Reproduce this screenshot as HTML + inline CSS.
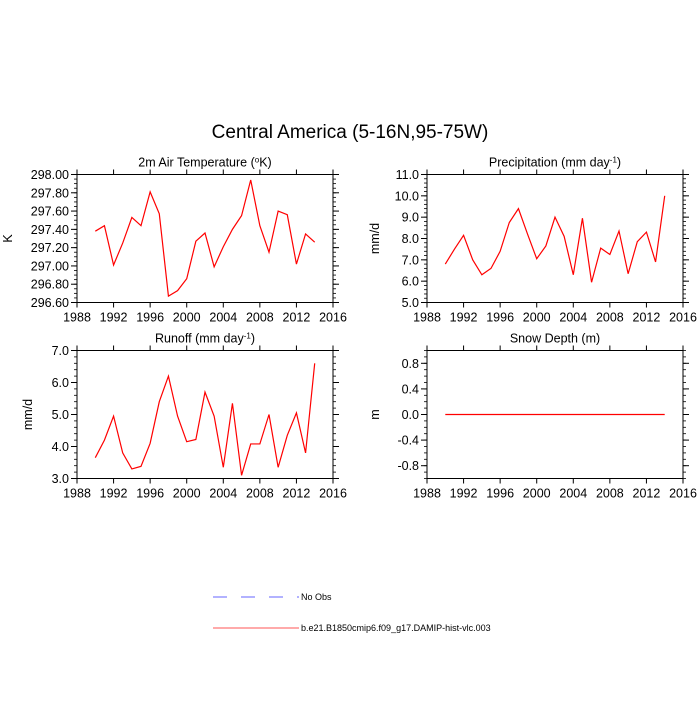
<!DOCTYPE html>
<html><head><meta charset="utf-8"><style>
body{margin:0;background:#fff;}
svg text{font-family:"Liberation Sans",sans-serif;fill:#000;}
</style></head><body>
<svg id="chart" width="700" height="700" xmlns="http://www.w3.org/2000/svg">
<text x="350" y="138" font-size="19" text-anchor="middle">Central America (5-16N,95-75W)</text>
<g id="panels"></g>
<g>
<line x1="213" y1="597" x2="299" y2="597" stroke="#6666ff" stroke-width="1" stroke-dasharray="14,14"/>
<text x="301" y="600" font-size="9">No Obs</text>
<line x1="213" y1="628" x2="299" y2="628" stroke="#ff5555" stroke-width="1"/>
<text x="301" y="631" font-size="9">b.e21.B1850cmip6.f09_g17.DAMIP-hist-vlc.003</text>
</g>
</svg>
<script>
const years=[1990,1991,1992,1993,1994,1995,1996,1997,1998,1999,2000,2001,2002,2003,2004,2005,2006,2007,2008,2009,2010,2011,2012,2013,2014];
const tempValues=[297.38,297.44,297.01,297.25,297.53,297.44,297.81,297.57,296.67,296.73,296.86,297.27,297.36,296.99,297.21,297.40,297.55,297.94,297.44,297.15,297.60,297.56,297.02,297.35,297.26];
const precipValues=[6.8,7.5,8.15,7.0,6.3,6.6,7.4,8.75,9.4,8.2,7.05,7.65,9.0,8.1,6.3,8.95,5.95,7.55,7.25,8.35,6.35,7.85,8.3,6.9,10.0];
const runoffValues=[3.65,4.2,4.95,3.8,3.3,3.38,4.1,5.4,6.2,4.95,4.15,4.22,5.7,4.95,3.35,5.35,3.1,4.08,4.08,5.0,3.35,4.35,5.05,3.8,6.6];
const snowValues=[0,0,0,0,0,0,0,0,0,0,0,0,0,0,0,0,0,0,0,0,0,0,0,0,0];
const xTicks=[1988,1992,1996,2000,2004,2008,2012,2016];
const tempTicks=[296.6,296.8,297.0,297.2,297.4,297.6,297.8,298.0];
const precipTicks=[5,6,7,8,9,10,11];
const runoffTicks=[3,4,5,6,7];
const snowTicks=[-0.8,-0.4,0,0.4,0.8];

const NS="http://www.w3.org/2000/svg";
const root=document.getElementById('panels');
function mk(tag,attrs,parent){const e=document.createElementNS(NS,tag);for(const k in attrs)e.setAttribute(k,attrs[k]);(parent||root).appendChild(e);return e;}

function panel(cfg){
  const {x0,x1,y0,y1,ymin,ymax,ticks,dec,minor,vals,title,ylab,name,yoff}=cfg;
  const g=mk('g',{});
  
  
  const xs=v=>x0+(v-1988)/(2016-1988)*(x1-x0);
  const ys=v=>y1-(v-ymin)/(ymax-ymin)*(y1-y0);
  const fr=mk('rect',{x:x0,y:y0,width:x1-x0,height:y1-y0,fill:'none',stroke:'#000','stroke-width':1},g);
  
  
  for(let v=ymin;v<=ymax+1e-9;v+=minor){
    const y=ys(v);
    mk('line',{x1:x0-3,y1:y,x2:x0,y2:y,stroke:'#000','stroke-width':0.8},g);
    mk('line',{x1:x1,y1:y,x2:x1+3,y2:y,stroke:'#000','stroke-width':0.8},g);
  }
  ticks.forEach(v=>{
    const y=ys(v);
    mk('line',{x1:x0-6,y1:y,x2:x0,y2:y,stroke:'#000','stroke-width':1},g);
    mk('line',{x1:x1,y1:y,x2:x1+6,y2:y,stroke:'#000','stroke-width':1},g);
    const t=mk('text',{x:x0-8,y:y+4.5,'font-size':12.5,'text-anchor':'end'},g);
    
    
    t.textContent=v.toFixed(dec);
  });
  xTicks.forEach(v=>{
    const x=xs(v);
    mk('line',{x1:x,y1:y1,x2:x,y2:y1+5,stroke:'#000','stroke-width':1},g);
    mk('line',{x1:x,y1:y0-5,x2:x,y2:y0,stroke:'#000','stroke-width':1},g);
    const t=mk('text',{x:x,y:y1+19,'font-size':12.5,'text-anchor':'middle'},g);
    
    
    t.textContent=v;
  });
  const tt=mk('text',{x:(x0+x1)/2,y:y0-8,'font-size':12.5,'text-anchor':'middle'},g);
  
  
  tt.innerHTML=title;
  const yl=mk('text',{x:0,y:0,'font-size':12.5,'text-anchor':'middle',transform:`translate(${x0-yoff},${(y0+y1)/2}) rotate(-90)`},g);
  
  
  yl.textContent=ylab;
  const pts=years.map((yr,i)=>xs(yr).toFixed(2)+','+ys(vals[i]).toFixed(2)).join(' ');
  const pl=mk('polyline',{points:pts,fill:'none',stroke:'#ff0000','stroke-width':1.2},g);
  
  
}
panel({name:'temperature',x0:77,x1:333,y0:174.5,y1:302.5,ymin:296.6,ymax:298.0,ticks:tempTicks,dec:2,minor:0.05,vals:tempValues,title:'2m Air Temperature (<tspan baseline-shift="super" font-size="8">o</tspan>K)',ylab:'K',yoff:65});
panel({name:'precipitation',x0:427,x1:683,y0:174.5,y1:302.5,ymin:5,ymax:11,ticks:precipTicks,dec:1,minor:0.2,vals:precipValues,title:'Precipitation (mm day<tspan baseline-shift="super" font-size="8">-1</tspan>)',ylab:'mm/d',yoff:48});
panel({name:'runoff',x0:77,x1:333,y0:350.5,y1:478.5,ymin:3,ymax:7,ticks:runoffTicks,dec:1,minor:0.2,vals:runoffValues,title:'Runoff (mm day<tspan baseline-shift="super" font-size="8">-1</tspan>)',ylab:'mm/d',yoff:45});
panel({name:'snow-depth',x0:427,x1:683,y0:350.5,y1:478.5,ymin:-1.0,ymax:1.0,ticks:snowTicks,dec:1,minor:0.1,vals:snowValues,title:'Snow Depth (m)',ylab:'m',yoff:48});
</script>
</body></html>
